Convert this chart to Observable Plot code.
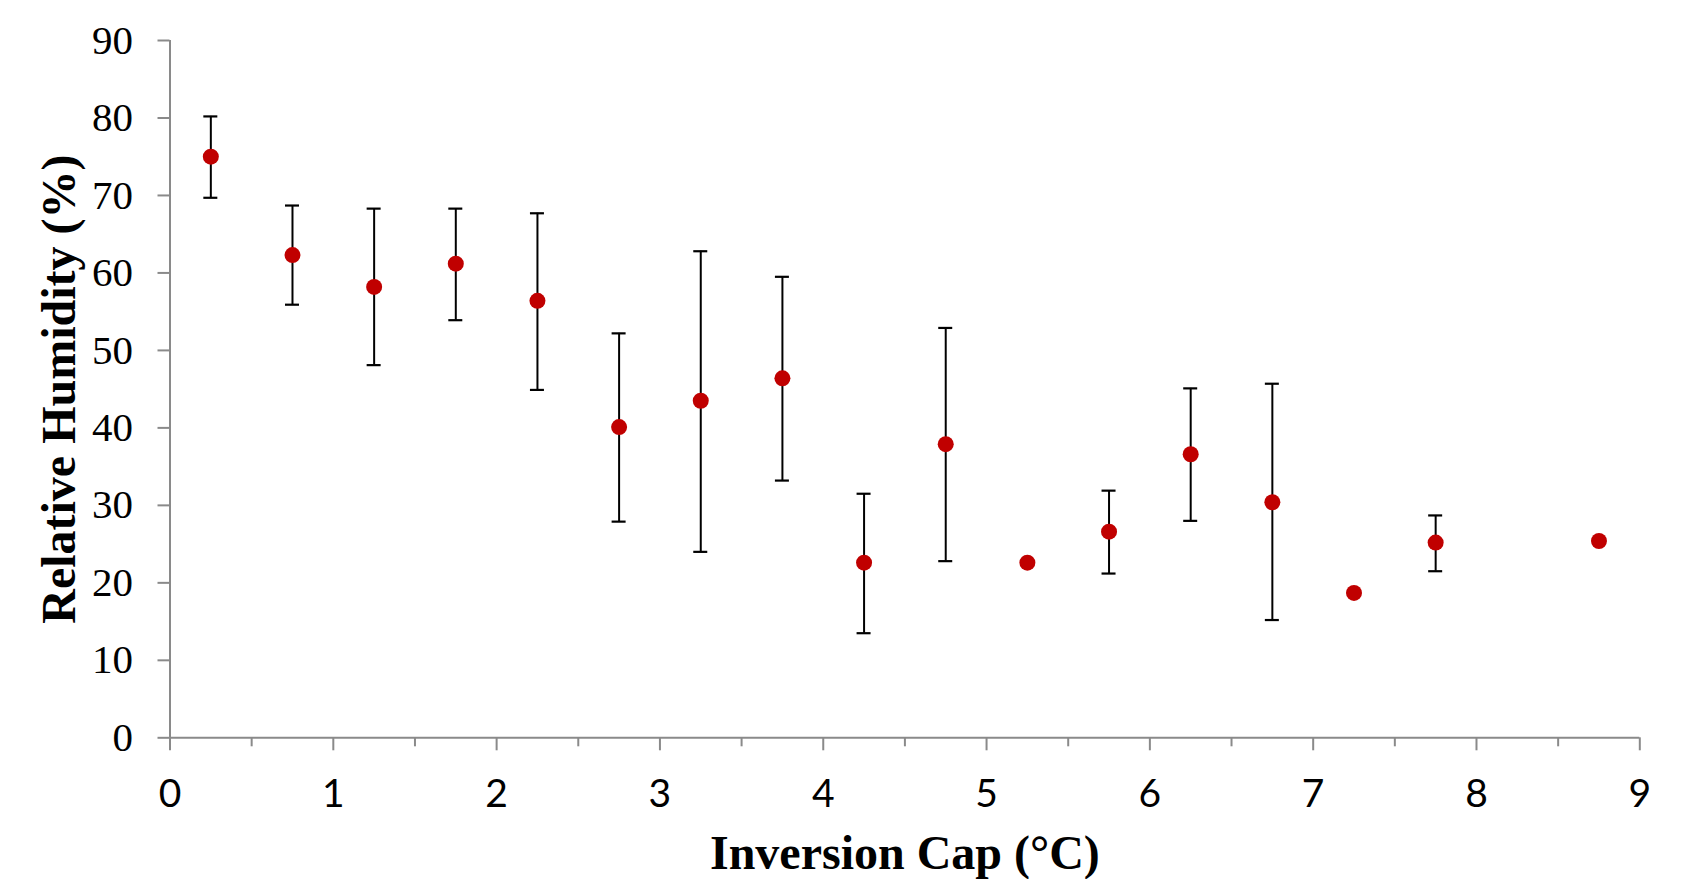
<!DOCTYPE html>
<html>
<head>
<meta charset="utf-8">
<script src="https://cdn.jsdelivr.net/npm/d3@7"></script>
<script src="https://cdn.jsdelivr.net/npm/@observablehq/plot@0.6"></script>
<style>
  html, body { margin: 0; padding: 0; background: #ffffff; }
  #chart svg { display: block; }
</style>
</head>
<body>
<div id="chart"></div>
<script>
// Inversion cap bins (°C, bin centres)
const inversionCap = [0.25, 0.75, 1.25, 1.75, 2.25, 2.75, 3.25, 3.75, 4.25, 4.75, 5.25, 5.75, 6.25, 6.75, 7.25, 7.75, 8.75];
// Mean relative humidity (%)
const humidity = [75.0, 62.3, 58.2, 61.2, 56.4, 40.1, 43.5, 46.4, 22.6, 37.9, 22.6, 26.6, 36.6, 30.4, 18.7, 25.2, 25.4];
// Error bar upper / lower limits (%), null where no bar is drawn
const errUpper = [80.2, 68.7, 68.3, 68.3, 67.7, 52.2, 62.8, 59.5, 31.5, 52.9, null, 31.9, 45.1, 45.7, null, 28.7, null];
const errLower = [69.7, 55.9, 48.1, 53.9, 44.9, 27.9, 24.0, 33.2, 13.5, 22.8, null, 21.2, 28.0, 15.2, null, 21.5, null];
// Axis ticks
const xTicks = [0, 1, 2, 3, 4, 5, 6, 7, 8, 9];
const xMinorTicks = [0.5, 1.5, 2.5, 3.5, 4.5, 5.5, 6.5, 7.5, 8.5];
const yTicks = [0, 10, 20, 30, 40, 50, 60, 70, 80, 90];
const xTitle = "Inversion Cap (°C)";
const yTitle = "Relative Humidity (%)";

const table = inversionCap.map((x, i) => ({x, rh: humidity[i], hi: errUpper[i], lo: errLower[i]}));
const withErr = table.filter(d => d.hi != null && d.lo != null);

const gray = "#8a8a8a";
const serif = "'Liberation Serif', 'Times New Roman', serif";

const chart = Plot.plot({
  width: 1692,
  height: 879,
  marginLeft: 169.5,
  marginRight: 52.7,
  marginTop: 40,
  marginBottom: 141.7,
  style: {background: "#ffffff", color: "#000000"},
  x: {domain: [0, 9], label: null},
  y: {domain: [0, 90], label: null},
  marks: [
    // axis lines
    Plot.ruleY([0], {stroke: gray, strokeWidth: 2}),
    Plot.ruleX([0], {stroke: gray, strokeWidth: 2}),
    // y axis
    Plot.axisY({ticks: yTicks, tickSize: 12, tickPadding: 25, stroke: gray, strokeWidth: 2,
      fill: "#000000", fontSize: 41, fontFamily: serif, label: null}),
    // x axis major ticks + labels
    Plot.axisX({ticks: xTicks, tickSize: 13, tickPadding: 28, stroke: gray, strokeWidth: 2,
      fill: "#000000", fontSize: 39, fontFamily: "Lato, 'Open Sans', sans-serif", label: null}),
    // x axis minor ticks
    Plot.axisX({ticks: xMinorTicks, tickSize: 9, stroke: gray, strokeWidth: 2, fill: "none", label: null}),
    // error bars
    Plot.ruleX(withErr, {x: "x", y1: "lo", y2: "hi", stroke: "#000000", strokeWidth: 2}),
    Plot.ruleY(withErr, {x1: "x", x2: "x", y: "hi", insetLeft: -7, insetRight: -7, stroke: "#000000", strokeWidth: 2.2}),
    Plot.ruleY(withErr, {x1: "x", x2: "x", y: "lo", insetLeft: -7, insetRight: -7, stroke: "#000000", strokeWidth: 2.2}),
    // points
    Plot.dot(table, {x: "x", y: "rh", r: 8, fill: "#c00000", stroke: "none"}),
    // axis titles
    Plot.text([xTitle], {text: d => d, frameAnchor: "bottom", dy: 97, lineAnchor: "top", textAnchor: "middle",
      fontSize: 48, fontWeight: "bold", fontFamily: serif, fill: "#000000"}),
    Plot.text([yTitle], {text: d => d, frameAnchor: "left", dx: -110.5, rotate: -90, lineAnchor: "middle", textAnchor: "middle",
      fontSize: 48, fontWeight: "bold", fontFamily: serif, fill: "#000000"})
  ]
});

document.getElementById("chart").appendChild(chart);
</script>
</body>
</html>
